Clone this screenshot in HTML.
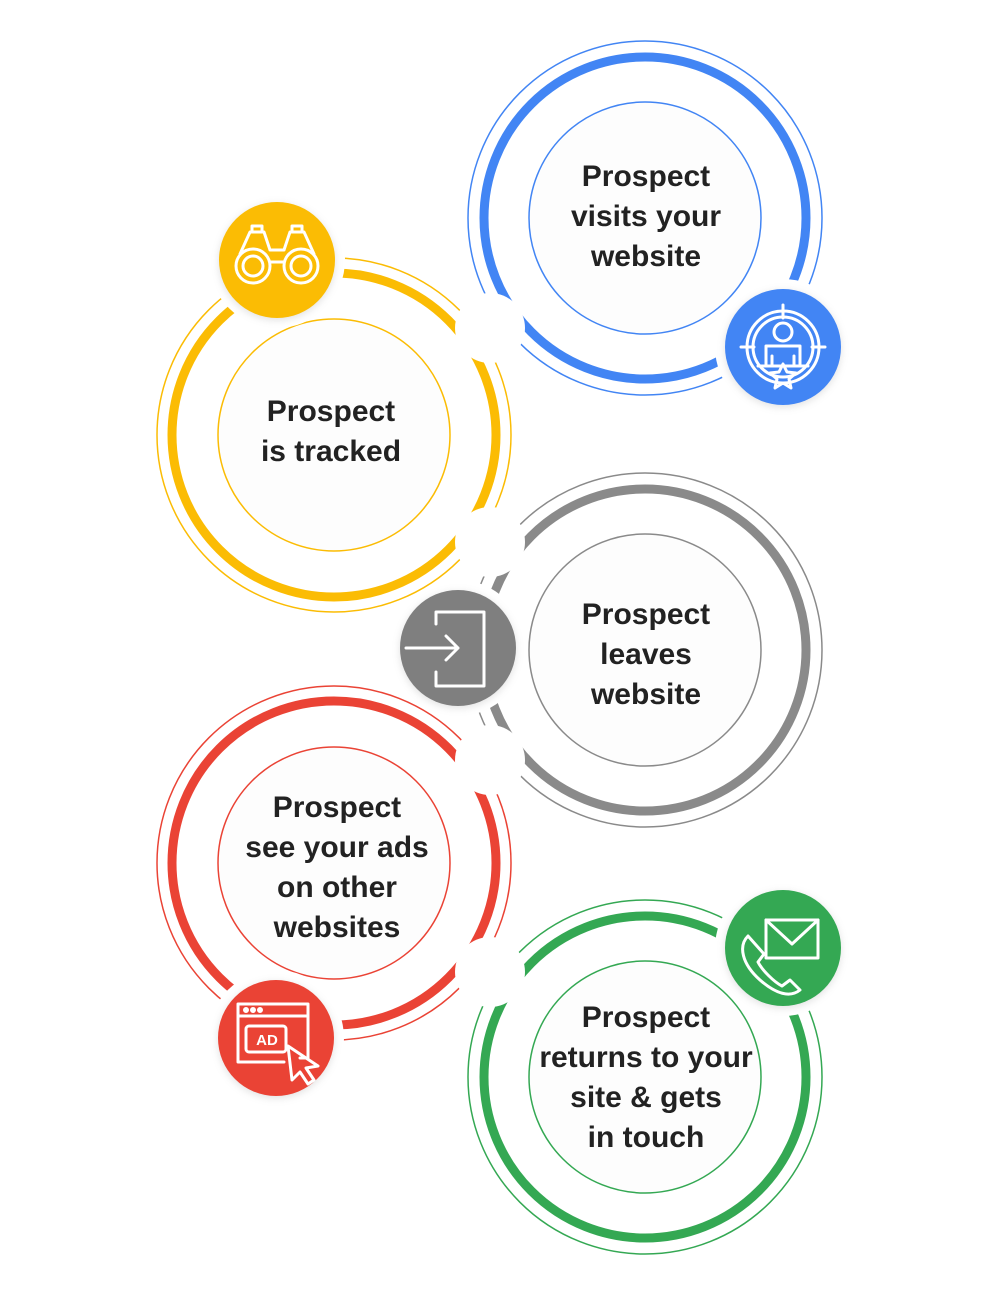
<!DOCTYPE html>
<html><head><meta charset="utf-8"><style>
html,body{margin:0;padding:0;background:#fff}
svg{display:block}
text{font-family:"Liberation Sans",sans-serif;font-weight:bold;font-size:30px;fill:#222;text-anchor:middle}
</style></head><body>
<svg width="1000" height="1300" viewBox="0 0 1000 1300">
<defs>
<filter id="sh" x="-30%" y="-30%" width="160%" height="160%"><feGaussianBlur stdDeviation="4"/></filter>
</defs>
<g fill="none">
 <g stroke="#4285f4"><circle cx="645" cy="218" r="177" stroke-width="1.5"/><circle cx="645" cy="218" r="161" stroke-width="9"/></g>
 <g stroke="#fbbc04"><circle cx="334" cy="435" r="177" stroke-width="1.5"/><circle cx="334" cy="435" r="162" stroke-width="9"/></g>
 <g stroke="#8a8a8a"><circle cx="645" cy="650" r="177" stroke-width="1.5"/><circle cx="645" cy="650" r="161" stroke-width="9"/></g>
 <g stroke="#ea4335"><circle cx="334" cy="863" r="177" stroke-width="1.5"/><circle cx="334" cy="863" r="162" stroke-width="9"/></g>
 <g stroke="#34a853"><circle cx="645" cy="1077" r="177" stroke-width="1.5"/><circle cx="645" cy="1077" r="161" stroke-width="9"/></g>
</g>
<g fill="#fff">
 <circle cx="490" cy="328" r="35"/>
 <circle cx="490" cy="542" r="35"/>
 <circle cx="490" cy="760" r="35"/>
 <circle cx="490" cy="972" r="35"/>
</g>
<g fill="#fdfdfd" stroke-width="1.5">
 <circle cx="645" cy="218" r="116" stroke="#4285f4"/>
 <circle cx="334" cy="435" r="116" stroke="#fbbc04"/>
 <circle cx="645" cy="650" r="116" stroke="#8a8a8a"/>
 <circle cx="334" cy="863" r="116" stroke="#ea4335"/>
 <circle cx="645" cy="1077" r="116" stroke="#34a853"/>
</g>
<g fill="#fff">
 <circle cx="277" cy="260" r="68"/><circle cx="783" cy="347" r="68"/><circle cx="458" cy="648" r="68"/><circle cx="276" cy="1038" r="68"/><circle cx="783" cy="948" r="68"/>
</g>
<g opacity="0.25" filter="url(#sh)" fill="#888">
 <circle cx="277" cy="262" r="58"/><circle cx="783" cy="349" r="58"/><circle cx="458" cy="650" r="58"/><circle cx="276" cy="1040" r="58"/><circle cx="783" cy="950" r="58"/>
</g>
<circle cx="277" cy="260" r="58" fill="#fbbc04"/>
<circle cx="783" cy="347" r="58" fill="#4285f4"/>
<circle cx="458" cy="648" r="58" fill="#7f7f7f"/>
<circle cx="276" cy="1038" r="58" fill="#ea4335"/>
<circle cx="783" cy="948" r="58" fill="#34a853"/>
<g fill="none" stroke="#fff" stroke-width="3" stroke-linejoin="round" stroke-linecap="round">
 <circle cx="253" cy="266" r="17"/><circle cx="253" cy="266" r="10"/>
 <circle cx="301" cy="266" r="17"/><circle cx="301" cy="266" r="10"/>
 <path d="M240 254 L250 232 H264 L270 250 M314 254 L304 232 H290 L284 250 M270 250 H284 M270 262 H284 M252 232 V226 H262 V232 M292 232 V226 H302 V232"/>
 <circle cx="783" cy="347" r="36"/><circle cx="783" cy="347" r="30"/>
 <path d="M783 305 V318 M741 347 H754 M812 347 H825"/>
 <circle cx="783" cy="332" r="9"/>
 <path d="M766 366 V346 H800 V366 M772 366 V356 M794 366 V356 M758 366 H808"/>
 <path d="M783 364 l4 8 9 1 -7 6 2 9 -8 -5 -8 5 2 -9 -7 -6 9 -1z"/>
 <path d="M436 624 V612 H484 V686 H436 V672"/>
 <path d="M406 648 H458 M446 636 L458 648 L446 660"/>
 <path d="M238 1004 H308 V1058 H300 M238 1004 V1062 H284 M238 1016 H308"/>
 <circle cx="246" cy="1010" r="1.5"/><circle cx="253" cy="1010" r="1.5"/><circle cx="260" cy="1010" r="1.5"/>
 <rect x="246" y="1026" width="40" height="26" rx="3"/>
 <path d="M288 1046 L318 1066 L306 1068 L314 1080 L308 1084 L300 1072 L292 1080 Z"/>
 <rect x="766" y="920" width="52" height="38"/>
 <path d="M766 920 L792 944 L818 920"/>
 <path d="M748 936 c-10 10 -6 28 12 44 c16 14 30 18 40 10 l-10 -10 -8 6 c-8 -4 -20 -16 -24 -24 l6 -8 z"/>
</g>
<text x="267" y="1045" style="font-size:15px;fill:#fff">AD</text>
<text x="646" y="186">Prospect</text><text x="646" y="226">visits your</text><text x="646" y="266">website</text>
<text x="331" y="421">Prospect</text><text x="331" y="461">is tracked</text>
<text x="646" y="624">Prospect</text><text x="646" y="664">leaves</text><text x="646" y="704">website</text>
<text x="337" y="817">Prospect</text><text x="337" y="857">see your ads</text><text x="337" y="897">on other</text><text x="337" y="937">websites</text>
<text x="646" y="1027">Prospect</text><text x="646" y="1067">returns to your</text><text x="646" y="1107">site &amp; gets</text><text x="646" y="1147">in touch</text>
</svg>
</body></html>
